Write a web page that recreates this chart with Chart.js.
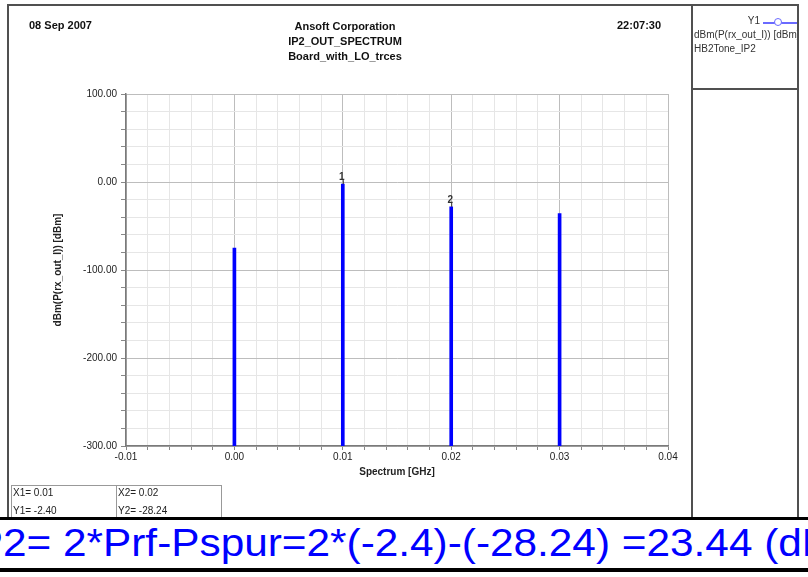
<!DOCTYPE html>
<html>
<head>
<meta charset="utf-8">
<script src="https://cdn.jsdelivr.net/npm/chart.js@4.4.0/dist/chart.umd.min.js"></script>
<style>
  body { margin: 0; background: #fff; }
  #page { position: relative; width: 808px; height: 577px; overflow: hidden; font-family: "Liberation Sans", Arial, sans-serif; }
  #chart { position: absolute; left: 0; top: 0; }
  .hline, .vline { position: absolute; background: #505050; }
  .txt { position: absolute; white-space: nowrap; color: #111; }
  .hdr { font-weight: bold; font-size: 11px; }
  .leg { font-size: 10px; color: #333; }
  .cell { font-size: 10px; color: #222; }
</style>
</head>
<body>
<div id="page">
  <canvas id="chart" width="808" height="577"></canvas>

  <!-- frame -->
  <div class="hline" style="left:7px; top:4px; width:792px; height:2px"></div>
  <div class="vline" style="left:7px; top:4px; width:2px; height:514px"></div>
  <div class="vline" style="left:691px; top:4px; width:2px; height:514px"></div>
  <div class="vline" style="left:797px; top:4px; width:2px; height:514px"></div>
  <div class="hline" style="left:691px; top:88px; width:108px; height:2px"></div>

  <!-- header -->
  <div class="txt hdr" style="left:29px; top:19px">08 Sep 2007</div>
  <div class="txt hdr" style="left:345px; top:19px; transform:translateX(-50%); text-align:center; line-height:15px">Ansoft Corporation<br>IP2_OUT_SPECTRUM<br>Board_with_LO_trces</div>
  <div class="txt hdr" style="left:617px; top:19px">22:07:30</div>

  <!-- legend -->
  <div class="txt leg" style="right:48px; top:15px">Y1</div>
  <div style="position:absolute; left:763px; top:22px; width:34px; height:2px; background:#6a6aff"></div>
  <div style="position:absolute; left:774px; top:18px; width:8px; height:8px; box-sizing:border-box; border:1.5px solid #6a6aff; border-radius:50%; background:#fff"></div>
  <div class="txt leg" style="left:694px; top:29px; width:103px; overflow:hidden">dBm(P(rx_out_I)) [dBm]</div>
  <div class="txt leg" style="left:694px; top:43px">HB2Tone_IP2</div>

  <!-- marker table -->
  <div style="position:absolute; left:11px; top:485px; width:209px; height:40px; border:1px solid #999"></div>
  <div style="position:absolute; left:116px; top:485px; width:1px; height:40px; background:#999"></div>
  <div class="txt cell" style="left:13px; top:487px">X1= 0.01</div>
  <div class="txt cell" style="left:13px; top:505px">Y1= -2.40</div>
  <div class="txt cell" style="left:118px; top:487px">X2= 0.02</div>
  <div class="txt cell" style="left:118px; top:505px">Y2= -28.24</div>

  <!-- bottom banner -->
  <div style="position:absolute; left:0; top:517px; width:808px; height:60px; background:#fff"></div>
  <div style="position:absolute; left:0; top:517px; width:808px; height:3px; background:#000"></div>
  <div class="txt" style="left:-37px; top:520px; font-size:38px; color:#0000ff; line-height:46px; transform:scaleX(1.114); transform-origin:0 0">IP2= 2*Prf-Pspur=2*(-2.4)-(-28.24) =23.44 (dB)</div>
  <div style="position:absolute; left:0; top:568px; width:808px; height:4px; background:#000"></div>
</div>

<script>
// spectrum lines
const freqs = [0.00, 0.01, 0.02, 0.03];          // GHz
const powerDbm = [-75, -2.40, -28.24, -36];      // dBm
const markerNames = ['', '1', '2', ''];
const xTicks = [-0.01, 0.00, 0.01, 0.02, 0.03, 0.04];
const yTicks = [100, 0, -100, -200, -300];

const isMajor = (v, list) => list.some(t => Math.abs(t - v) < 1e-9);

// draws the "1" / "2" marker tags above the bars
const markerPlugin = {
  id: 'markers',
  afterDatasetsDraw(chart) {
    const ctx = chart.ctx;
    const xs = chart.scales.x, ys = chart.scales.y;
    ctx.save();
    ctx.fillStyle = '#333';
    ctx.strokeStyle = '#333';
    ctx.lineWidth = 1;
    ctx.font = 'bold 10px "Liberation Sans", Arial';
    ctx.textAlign = 'center';
    ctx.textBaseline = 'bottom';
    markerNames.forEach((m, i) => {
      if (!m) return;
      const px = xs.getPixelForValue(freqs[i]);
      const py = ys.getPixelForValue(powerDbm[i]);
      ctx.fillText(m, px - 1, py - 2);
      ctx.beginPath();
      ctx.moveTo(px + 0.5, py - 4);
      ctx.lineTo(px + 0.5, py);
      ctx.stroke();
    });
    ctx.restore();
  }
};

new Chart(document.getElementById('chart'), {
  type: 'bar',
  data: {
    datasets: [{
      data: freqs.map((f, i) => ({ x: f, y: [-300, powerDbm[i]] })),
      backgroundColor: '#0000ff',
      borderWidth: 0,
      barThickness: 3
    }]
  },
  options: {
    responsive: false,
    animation: false,
    layout: { padding: { left: 0, top: 94, right: 140, bottom: 96 } },
    plugins: { legend: { display: false }, tooltip: { enabled: false } },
    scales: {
      x: {
        type: 'linear',
        min: -0.01, max: 0.04,
        offset: false,
        afterFit: s => { s.height = 35; },
        grid: {
          offset: false,
          color: c => isMajor(c.tick.value, xTicks) ? '#bdbdbd' : '#e6e6e6',
          tickColor: '#888',
          tickLength: 4
        },
        border: { color: '#7a7a7a', width: 1.5 },
        ticks: {
          stepSize: 0.002,
          autoSkip: false,
          maxRotation: 0,
          padding: 1,
          color: '#222',
          font: { family: '"Liberation Sans", Arial', size: 10 },
          callback: v => isMajor(v, xTicks) ? (Math.abs(v) < 1e-9 ? 0 : v).toFixed(2) : ''
        },
        title: {
          display: true,
          text: 'Spectrum [GHz]',
          color: '#222',
          font: { family: '"Liberation Sans", Arial', size: 10, weight: 'bold' },
          padding: { top: 0, bottom: 3 }
        }
      },
      y: {
        min: -300, max: 100,
        afterFit: s => { s.width = 126; },
        grid: {
          color: c => isMajor(c.tick.value, yTicks) ? '#bdbdbd' : '#e6e6e6',
          tickColor: '#888',
          tickLength: 5
        },
        border: { color: '#7a7a7a', width: 1.5 },
        ticks: {
          stepSize: 20,
          autoSkip: false,
          padding: 4,
          color: '#222',
          font: { family: '"Liberation Sans", Arial', size: 10 },
          callback: v => isMajor(v, yTicks) ? v.toFixed(2) : ''
        },
        title: {
          display: true,
          text: 'dBm(P(rx_out_I)) [dBm]',
          color: '#222',
          font: { family: '"Liberation Sans", Arial', size: 10, weight: 'bold' },
          padding: { top: 52, bottom: 0 }
        }
      }
    }
  },
  plugins: [markerPlugin]
});
</script>
</body>
</html>
